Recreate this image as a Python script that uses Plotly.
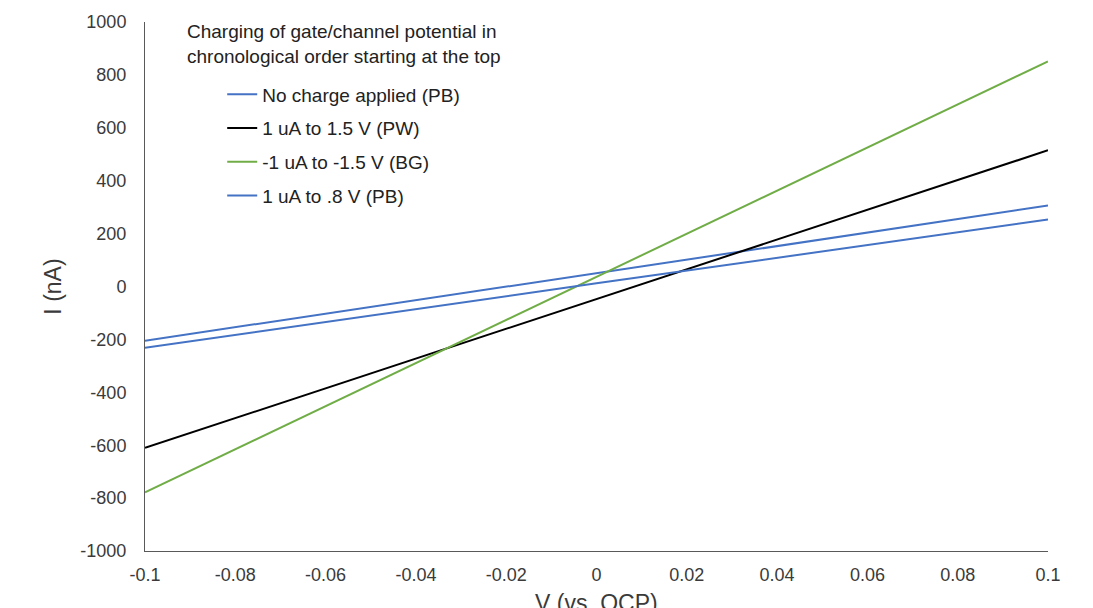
import plotly.graph_objects as go

# Data (V vs OCP, I in nA)
v_points = [-0.1, 0.0, 0.1]
no_charge_pb = [-205, 50, 306]
pw_1ua_1p5v = [-610, -47, 515]
bg_m1ua_m1p5v = [-778, 37, 851]
pb_1ua_0p8v = [-232, 12, 253]

series_names = [
    "No charge applied (PB)",
    "1 uA to 1.5 V (PW)",
    "-1 uA to -1.5 V (BG)",
    "1 uA to .8 V (PB)",
]
series_values = [no_charge_pb, pw_1ua_1p5v, bg_m1ua_m1p5v, pb_1ua_0p8v]
series_colors = ["#4472C4", "#000000", "#70AD47", "#4472C4"]

x_ticks = [-0.1, -0.08, -0.06, -0.04, -0.02, 0, 0.02, 0.04, 0.06, 0.08, 0.1]
x_ticklabels = ["-0.1", "-0.08", "-0.06", "-0.04", "-0.02", "0", "0.02", "0.04", "0.06", "0.08", "0.1"]
y_ticks = [-1000, -800, -600, -400, -200, 0, 200, 400, 600, 800, 1000]
y_ticklabels = ["-1000", "-800", "-600", "-400", "-200", "0", "200", "400", "600", "800", "1000"]

FONT = "Liberation Sans, Arial, sans-serif"
TXT = "#3a3a3a"

fig = go.Figure()
for i, (name, vals, col) in enumerate(zip(series_names, series_values, series_colors)):
    fig.add_trace(go.Scatter(
        x=v_points, y=vals, mode="lines", name=name,
        line=dict(color=col, width=2),
        legendgroup=f"g{i}",
    ))

fig.update_layout(
    width=1093, height=608,
    margin=dict(l=137, r=53, t=14, b=65, autoexpand=False),
    paper_bgcolor="white", plot_bgcolor="white",
    font=dict(family=FONT, size=18, color=TXT),
    showlegend=True,
    legend=dict(
        x=0.0855, y=0.899, xanchor="left", yanchor="top",
        bgcolor="rgba(0,0,0,0)",
        font=dict(family=FONT, size=19, color="#222222"),
        traceorder="grouped", tracegroupgap=6,
    ),
    xaxis=dict(
        range=[-0.1, 0.1], tickvals=x_ticks, ticktext=x_ticklabels,
        showgrid=False, zeroline=False, showline=True,
        linecolor="#595959", linewidth=1, ticks="",
        ticklabelstandoff=7,
        tickfont=dict(size=18, color=TXT),
    ),
    yaxis=dict(
        range=[-1000, 1000], tickvals=y_ticks, ticktext=y_ticklabels,
        showgrid=False, zeroline=False, showline=True,
        linecolor="#595959", linewidth=1, ticks="",
        ticklabelstandoff=14,
        tickfont=dict(size=18, color=TXT),
        title=dict(text="I (nA)", font=dict(size=23, color=TXT), standoff=12),
    ),
    annotations=[
        dict(
            text="Charging of gate/channel potential in<br>chronological order starting at the top",
            xref="paper", yref="paper", x=0.0443, y=1.0,
            xanchor="left", yanchor="top", align="left", showarrow=False, yshift=3,
            font=dict(family=FONT, size=19, color="#222222"),
        ),
        dict(
            text="V (vs. OCP)",
            xref="paper", yref="paper", x=0.5, y=0,
            xanchor="center", yanchor="top", showarrow=False, yshift=-37,
            font=dict(family=FONT, size=23, color=TXT),
        ),
    ],
)

fig.write_html("out.html")
